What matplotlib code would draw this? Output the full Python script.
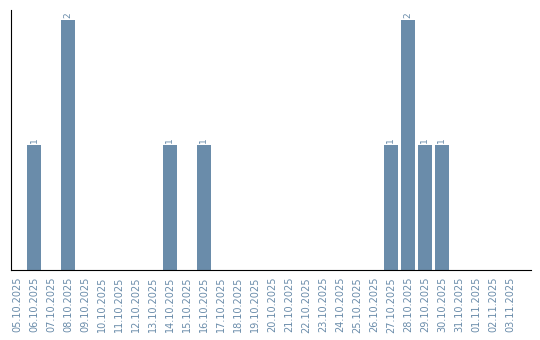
import matplotlib
matplotlib.use('Agg')
import matplotlib.pyplot as plt
import numpy as np

dates = ['05.10.2025', '06.10.2025', '07.10.2025', '08.10.2025', '09.10.2025',
         '10.10.2025', '11.10.2025', '12.10.2025', '13.10.2025', '14.10.2025',
         '15.10.2025', '16.10.2025', '17.10.2025', '18.10.2025', '19.10.2025',
         '20.10.2025', '21.10.2025', '22.10.2025', '23.10.2025', '24.10.2025',
         '25.10.2025', '26.10.2025', '27.10.2025', '28.10.2025', '29.10.2025',
         '30.10.2025', '31.10.2025', '01.11.2025', '02.11.2025', '03.11.2025']
counts = [0, 1, 0, 2, 0, 0, 0, 0, 0, 1,
          0, 1, 0, 0, 0, 0, 0, 0, 0, 0,
          0, 0, 1, 2, 1, 1, 0, 0, 0, 0]

BAR = '#6a8caa'

fig = plt.figure(figsize=(5.4, 3.4), dpi=100)
ax = fig.add_axes([10.5/540, 70/340, 520.5/540, 260/340])

x = np.arange(len(dates))
bars = ax.bar(x, counts, width=0.82, color=BAR)

# value labels above non-empty bars
for xi, c in zip(x, counts):
    if c > 0:
        ax.text(xi, c + 0.02, str(c), rotation=90, ha='center', va='bottom',
                fontsize=6.5, color=BAR)

ax.set_xlim(-0.38, 30.24)
ax.set_ylim(0, 2.08)
ax.set_xticks(x)
ax.set_xticklabels(dates, rotation=90, fontsize=7, color=BAR)
ax.tick_params(axis='x', length=0, pad=5)
ax.set_yticks([])
for s in ['top', 'right']:
    ax.spines[s].set_visible(False)
ax.spines['left'].set_color('black')
ax.spines['bottom'].set_color('black')

fig.savefig('out.png', dpi=100)
